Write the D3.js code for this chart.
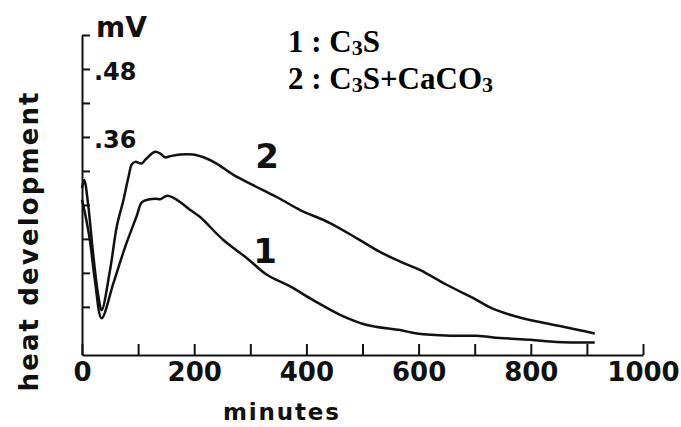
<!DOCTYPE html>
<html>
<head>
<meta charset="utf-8">
<script src="https://cdn.jsdelivr.net/npm/d3@7"></script>
<style>
  body { margin: 0; background: #fff; }
  svg { display: block; }
</style>
</head>
<body>
<div id="chart"></div>
<script>
// (minutes, mV)
// curve 1 : C3S
const time1 = [0, 5, 14, 23, 35, 56, 77, 97, 107, 121, 132, 139, 152, 169, 193, 210, 252, 294, 329, 371, 412, 460, 508, 567, 597, 656, 704, 745, 799, 846, 914];
const heat1 = [0.249, 0.227, 0.178, 0.107, 0.040, 0.102, 0.166, 0.219, 0.245, 0.250, 0.251, 0.250, 0.256, 0.249, 0.231, 0.219, 0.178, 0.146, 0.117, 0.096, 0.072, 0.046, 0.028, 0.019, 0.013, 0.009, 0.009, 0.005, 0.002, -0.002, -0.003];

// curve 2 : C3S + CaCO3
const time2 = [0, 4, 11, 20, 29, 35, 50, 62, 74, 83, 89, 95, 106, 115, 130, 139, 148, 157, 175, 198, 222, 240, 270, 305, 347, 389, 442, 490, 531, 567, 603, 650, 704, 727, 763, 811, 858, 914];
const heat2 = [0.270, 0.284, 0.240, 0.152, 0.080, 0.054, 0.125, 0.202, 0.249, 0.290, 0.312, 0.316, 0.313, 0.322, 0.334, 0.331, 0.324, 0.326, 0.329, 0.329, 0.322, 0.313, 0.293, 0.275, 0.254, 0.231, 0.208, 0.181, 0.157, 0.140, 0.125, 0.099, 0.072, 0.059, 0.046, 0.034, 0.025, 0.013];

const xTicks = [0, 100, 200, 300, 400, 500, 600, 700, 800, 900, 1000];
const yTicks = [0.06, 0.12, 0.18, 0.24, 0.30, 0.36, 0.42, 0.48, 0.54];
const yTickLabels = { 0.36: ".36", 0.48: ".48" };

const width = 681,
    height = 427;

const svg = d3.select("#chart")
    .append("svg")
    .attr("width", width)
    .attr("height", height)
    .attr("viewBox", [0, 0, width, height]);

const x = d3.scaleLinear()
    .domain([0, 1000])
    .range([82, 643]);

// axis line sits a bit below zero on the original
const y = d3.scaleLinear()
    .domain([-0.025, 0.54])
    .range([355, 35]);

const sans = "'DejaVu Sans', sans-serif";

// x axis - ticks point up into the plot, labels every 200
const xAxis = svg.append("g")
    .attr("transform", `translate(0,${y(-0.025)})`)
    .call(d3.axisBottom(x)
        .tickValues(xTicks)
        .tickSize(-11)
        .tickSizeOuter(0)
        .tickPadding(8)
        .tickFormat(d => d % 200 === 0 ? d : ""));

xAxis.selectAll("text")
    .attr("font-family", sans)
    .attr("font-weight", "bold")
    .attr("font-size", 26)
    .attr("fill", "#111");

// y axis - ticks point right, only two labels
const yAxis = svg.append("g")
    .attr("transform", `translate(${x(0)},0)`)
    .call(d3.axisRight(y)
        .tickValues(yTicks)
        .tickSize(8)
        .tickSizeOuter(0)
        .tickPadding(4)
        .tickFormat(d => yTickLabels[d] || ""));

yAxis.selectAll("text")
    .attr("font-family", sans)
    .attr("font-weight", "bold")
    .attr("font-size", 24)
    .attr("dy", "0.45em")
    .attr("fill", "#111");

svg.selectAll(".domain, .tick line")
    .attr("stroke", "#111")
    .attr("stroke-width", 2);

svg.append("text")
    .attr("x", 96)
    .attr("y", 37)
    .attr("font-family", sans)
    .attr("font-weight", "bold")
    .attr("font-size", 28)
    .attr("fill", "#111")
    .text("mV");

// axis titles
svg.append("text")
    .attr("transform", "translate(38,242) rotate(-90)")
    .attr("text-anchor", "middle")
    .attr("font-family", sans)
    .attr("font-weight", "bold")
    .attr("font-size", 26)
    .attr("textLength", 299)
    .attr("lengthAdjust", "spacing")
    .attr("fill", "#111")
    .text("heat development");

svg.append("text")
    .attr("x", 223)
    .attr("y", 420)
    .attr("font-family", sans)
    .attr("font-weight", "bold")
    .attr("font-size", 23)
    .attr("textLength", 116)
    .attr("lengthAdjust", "spacing")
    .attr("fill", "#111")
    .text("minutes");

// the two curves
const line = d3.line()
    .x(d => x(d[0]))
    .y(d => y(d[1]))
    .curve(d3.curveCatmullRom.alpha(0.5));

const series = [d3.zip(time1, heat1), d3.zip(time2, heat2)];

svg.selectAll(".curve")
    .data(series)
    .join("path")
    .attr("class", "curve")
    .attr("d", line)
    .attr("fill", "none")
    .attr("stroke", "#111")
    .attr("stroke-width", 2.5)
    .attr("stroke-linejoin", "round");

// curve numbers
svg.append("text")
    .attr("x", 267).attr("y", 168)
    .attr("text-anchor", "middle")
    .attr("font-family", sans).attr("font-weight", "bold").attr("font-size", 34)
    .attr("fill", "#111")
    .text("2");

svg.append("text")
    .attr("x", 265).attr("y", 263)
    .attr("text-anchor", "middle")
    .attr("font-family", sans).attr("font-weight", "bold").attr("font-size", 34)
    .attr("fill", "#111")
    .text("1");

// legend, serif like the pasted-in text box
const legend = svg.append("g")
    .attr("font-family", "'Liberation Serif', 'Times New Roman', serif")
    .attr("font-weight", "bold")
    .attr("font-size", 31)
    .attr("fill", "#000");

const l1 = legend.append("text").attr("x", 288).attr("y", 52);
l1.append("tspan").text("1 : C");
l1.append("tspan").attr("font-size", 22).attr("dy", 3).text("3");
l1.append("tspan").attr("dy", -3).text("S");

const l2 = legend.append("text").attr("x", 288).attr("y", 89);
l2.append("tspan").text("2 : C");
l2.append("tspan").attr("font-size", 22).attr("dy", 3).text("3");
l2.append("tspan").attr("dy", -3).text("S+CaCO");
l2.append("tspan").attr("font-size", 22).attr("dy", 3).text("3");
</script>
</body>
</html>
